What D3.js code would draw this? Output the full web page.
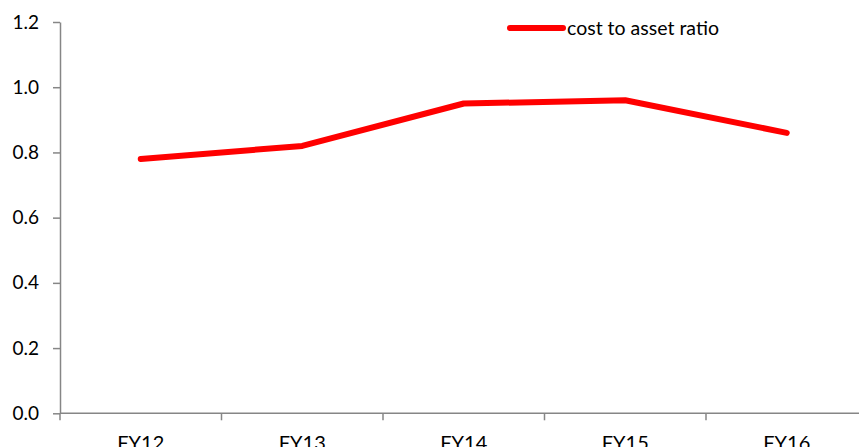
<!DOCTYPE html>
<html>
<head>
<meta charset="utf-8">
<script src="https://cdn.jsdelivr.net/npm/d3@7"></script>
<style>
  html, body { margin: 0; padding: 0; background: #fff; overflow: hidden; }
  svg { display: block; font-family: Lato, "Open Sans", sans-serif; }
</style>
</head>
<body>
<svg id="chart" width="859" height="447"></svg>
<script>
// Cost to asset ratio by fiscal year
const categories = ["FY12", "FY13", "FY14", "FY15", "FY16"];
const costToAsset = [0.78, 0.82, 0.95, 0.96, 0.86];
const yTicks = [0.0, 0.2, 0.4, 0.6, 0.8, 1.0, 1.2];
const seriesName = "cost to asset ratio";

const svg = d3.select("#chart");
const plot = { left: 60, top: 22, bottom: 413.3, right: 867.5 };

const x = d3.scaleBand().domain(categories).range([plot.left, plot.right]).paddingInner(0).paddingOuter(0);
const y = d3.scaleLinear().domain([0, 1.2]).range([plot.bottom, plot.top]);

const axisColor = "#868686";

// Y axis
const yAxis = svg.append("g")
  .attr("transform", `translate(${plot.left},0)`)
  .call(d3.axisLeft(y).tickValues(yTicks).tickFormat(d3.format(".1f")).tickSizeInner(7).tickSizeOuter(0).tickPadding(14));
yAxis.select(".domain").attr("stroke", axisColor).attr("stroke-width", 1.5);
yAxis.selectAll(".tick line").attr("stroke", axisColor).attr("stroke-width", 1.5);
yAxis.selectAll(".tick text").attr("fill", "#000").style("font-size", "19px").attr("font-family", "Lato, sans-serif");

// X axis with ticks at band boundaries
const xAxis = svg.append("g").attr("transform", `translate(0,${plot.bottom})`);
xAxis.append("line")
  .attr("x1", plot.left).attr("x2", plot.right)
  .attr("stroke", axisColor).attr("stroke-width", 1.5);
const boundaries = categories.map(c => x(c)).concat([x(categories[categories.length - 1]) + x.bandwidth()]);
xAxis.selectAll("line.tk").data(boundaries).join("line")
  .attr("class", "tk")
  .attr("x1", d => d).attr("x2", d => d)
  .attr("y1", 0).attr("y2", 7)
  .attr("stroke", axisColor).attr("stroke-width", 1.5);
xAxis.selectAll("text").data(categories).join("text")
  .attr("x", d => x(d) + x.bandwidth() / 2)
  .attr("y", 36.5)
  .attr("text-anchor", "middle")
  .style("font-size", "20px")
  .attr("fill", "#000")
  .text(d => d);

// Series line
const line = d3.line()
  .x((d, i) => x(categories[i]) + x.bandwidth() / 2)
  .y(d => y(d));
svg.append("path")
  .datum(costToAsset)
  .attr("d", line)
  .attr("fill", "none")
  .attr("stroke", "#ff0000")
  .attr("stroke-width", 6)
  .attr("stroke-linecap", "round")
  .attr("stroke-linejoin", "round");

// Legend
const legend = svg.append("g").attr("transform", "translate(510,28)");
legend.append("line")
  .attr("x1", 0).attr("x2", 53)
  .attr("stroke", "#ff0000").attr("stroke-width", 6).attr("stroke-linecap", "round");
legend.append("text")
  .attr("x", 57).attr("y", 6.5)
  .style("font-size", "19.5px")
  .attr("fill", "#000")
  .text(seriesName);
</script>
</body>
</html>
